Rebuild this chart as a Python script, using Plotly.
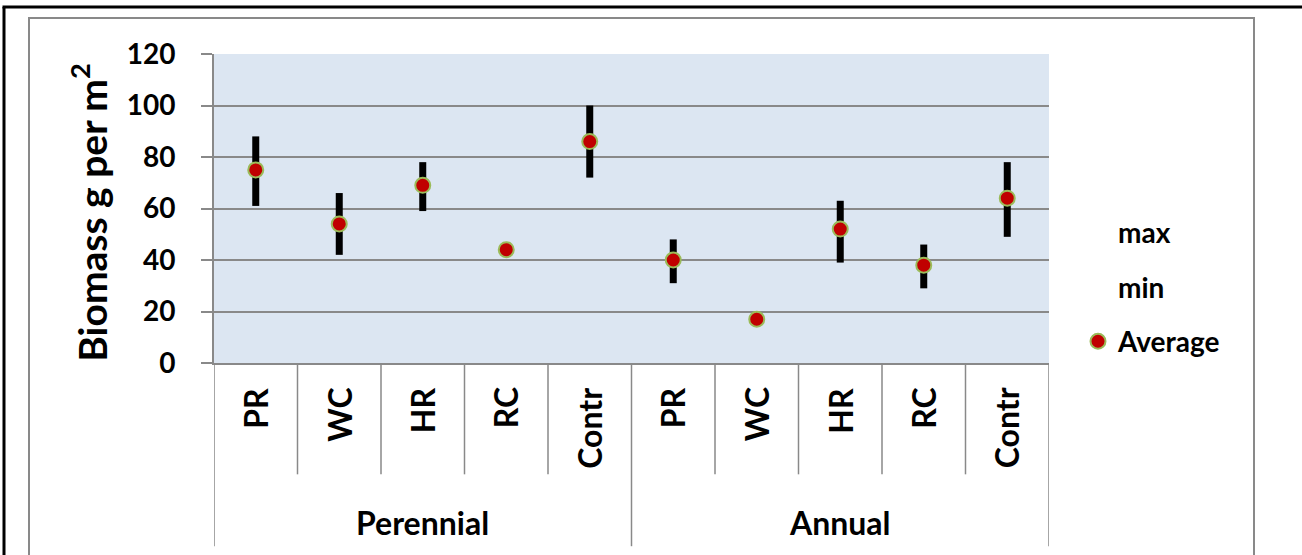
import plotly.graph_objects as go

# ---- data ----
groups = ["Perennial", "Annual"]
categories = ["PR", "WC", "HR", "RC", "Contr", "PR", "WC", "HR", "RC", "Contr"]
max_vals = [88, 66, 78, 45, 100, 48, 18, 63, 46, 78]
min_vals = [61, 42, 59, 43, 72, 31, 16, 39, 29, 49]
avg_vals = [75, 54, 69, 44, 86, 40, 17, 52, 38, 64]
y_ticks = [0, 20, 40, 60, 80, 100, 120]

FONT = "Lato"
xpos = [i + 0.5 for i in range(len(categories))]

fig = go.Figure()

# high-low lines
hx, hy = [], []
for x, lo, hi in zip(xpos, min_vals, max_vals):
    hx += [x, x, None]
    hy += [lo, hi, None]
fig.add_trace(go.Scatter(x=hx, y=hy, mode="lines", line=dict(color="black", width=7),
                         showlegend=False, hoverinfo="skip"))

fig.add_trace(go.Scatter(x=xpos, y=max_vals, mode="markers", name="<b>max</b>",
                         marker=dict(color="rgba(0,0,0,0)", size=14), legendgroup="a"))
fig.add_trace(go.Scatter(x=xpos, y=min_vals, mode="markers", name="<b>min</b>",
                         marker=dict(color="rgba(0,0,0,0)", size=14), legendgroup="b"))
fig.add_trace(go.Scatter(x=xpos, y=avg_vals, mode="markers", name="<b>Average</b>",
                         marker=dict(color="#C00000", size=15,
                                     line=dict(color="#9BBB59", width=2)),
                         legendgroup="c"))

W, H = 1302, 555
# plot area in screen pixels
PL, PR_, PT, PB = 214, 1049, 54, 363.5
L, T = PL, PT
R = W - PR_
B = H - PB
pw = PR_ - PL
ph = PB - PT


def px_x(p):
    return (p - PL) / pw


def px_y(p):
    return (PB - p) / ph


shapes = []
# category dividers
for i in range(len(categories) + 1):
    is_group = i % 5 == 0
    shapes.append(dict(type="line", xref="x", yref="paper", x0=i, x1=i,
                       y0=0, y1=px_y(547 if is_group else 475),
                       line=dict(color="#898989", width=1.5)))
# chart area border (gray)
shapes.append(dict(type="rect", xref="paper", yref="paper",
                   x0=px_x(29), x1=px_x(1254), y0=px_y(620), y1=px_y(18),
                   line=dict(color="#898989", width=2), layer="below"))
# outer black border (left and top edges visible)
shapes.append(dict(type="line", xref="paper", yref="paper",
                   x0=px_x(4), x1=px_x(4), y0=px_y(600), y1=px_y(7),
                   line=dict(color="black", width=3), layer="below"))
shapes.append(dict(type="line", xref="paper", yref="paper",
                   x0=px_x(2.5), x1=px_x(1360), y0=px_y(7), y1=px_y(7),
                   line=dict(color="black", width=3), layer="below"))

annotations = []
for x, c in zip(xpos, categories):
    annotations.append(dict(x=x, xref="x", y=px_y(386), yref="paper", text=f"<b>{c}</b>",
                            textangle=-90, showarrow=False, xanchor="center", yanchor="top",
                            font=dict(family=FONT, size=32, color="black")))
for gi, g in enumerate(groups):
    annotations.append(dict(x=gi * 5 + 2.5, xref="x", y=px_y(523), yref="paper",
                            text=f"<b>{g}</b>", showarrow=False, xanchor="center",
                            yanchor="middle", font=dict(family=FONT, size=32, color="black")))
annotations.append(dict(x=px_x(89), xref="paper", y=px_y(213), yref="paper",
                        text="<b>Biomass g per m<sup>2</sup></b>", textangle=-90,
                        showarrow=False, xanchor="center", yanchor="middle",
                        font=dict(family=FONT, size=39, color="black")))

fig.update_layout(
    width=W, height=H,
    margin=dict(l=L, r=R, t=T, b=B, pad=0),
    paper_bgcolor="white",
    plot_bgcolor="#DCE6F2",
    shapes=shapes,
    annotations=annotations,
    font=dict(family=FONT, color="black"),
    legend=dict(x=px_x(1078), xanchor="left", y=px_y(208), yanchor="top",
                font=dict(family=FONT, size=28, color="black"),
                tracegroupgap=15, bgcolor="rgba(0,0,0,0)"),
)
fig.update_xaxes(range=[0, 10], showgrid=False, zeroline=False, showticklabels=False,
                 showline=True, linecolor="#898989", linewidth=2, ticks="", fixedrange=True)
fig.update_yaxes(range=[0, 120], tickvals=y_ticks, ticktext=[f"<b>{v}</b>" for v in y_ticks],
                 showgrid=True, gridcolor="#898989", gridwidth=1.5, zeroline=False,
                 showline=True, linecolor="#898989", linewidth=2,
                 ticks="outside", ticklen=11, tickcolor="#898989", tickwidth=1.5,
                 ticklabelstandoff=20,
                 tickfont=dict(family=FONT, size=28, color="black"), fixedrange=True)

fig.write_html("out.html", config={"displayModeBar": False},
               post_script="document.body.style.margin='0px';document.body.style.overflow='hidden';")
